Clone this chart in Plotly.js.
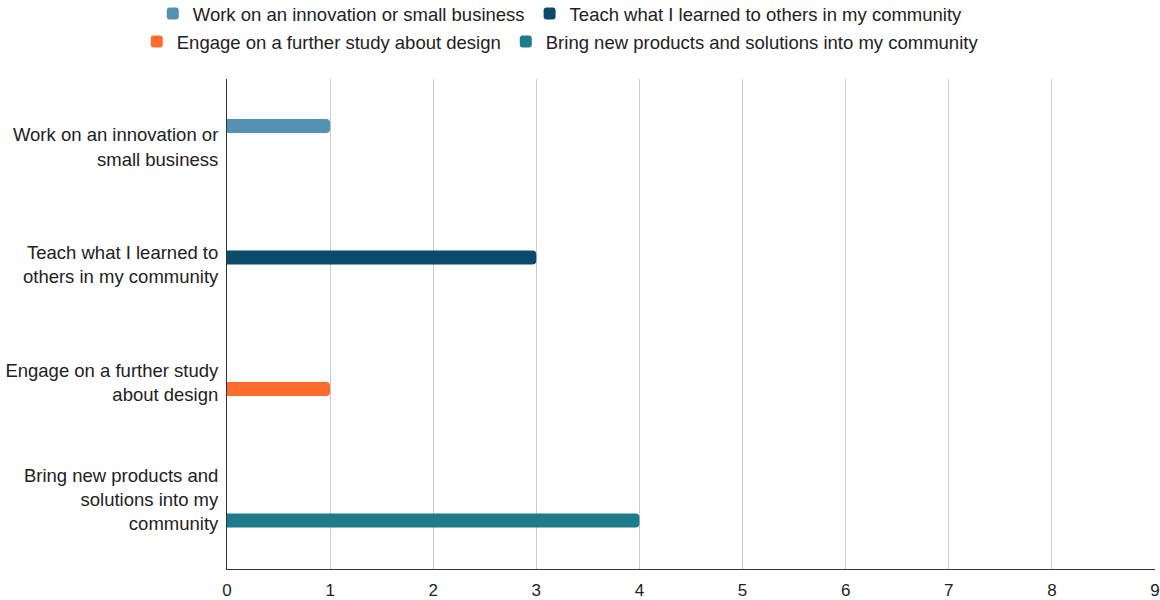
<!DOCTYPE html>
<html>
<head>
<meta charset="utf-8">
<script src="https://cdn.plot.ly/plotly-3.0.1.min.js"></script>
<style>html,body{margin:0;padding:0;background:#fff;}#chart{width:1160px;height:600px;}</style>
</head>
<body>
<div id="chart"></div>
<script>
const categories = [
  "Work on an innovation or<br>small business",
  "Teach what I learned to<br>others in my community",
  "Engage on a further study<br>about design",
  "Bring new products and<br>solutions into my<br>community"
];
const seriesNames = [
  "Work on an innovation or small business",
  "Teach what I learned to others in my community",
  "Engage on a further study about design",
  "Bring new products and solutions into my community"
];
const workValues = [1, null, null, null];
const teachValues = [null, 3, null, null];
const engageValues = [null, null, 1, null];
const bringValues = [null, null, null, 4];
const seriesColors = ["#5591b3", "#0b4a6b", "#ff6b2c", "#1e7b8c"];
const xTicks = [0, 1, 2, 3, 4, 5, 6, 7, 8, 9];

const allValues = [workValues, teachValues, engageValues, bringValues];
const legendIds = ["legend", "legend", "legend2", "legend2"];

const traces = allValues.map((vals, i) => ({
  type: "bar",
  orientation: "h",
  name: seriesNames[i],
  y: categories,
  x: vals,
  marker: { color: seriesColors[i], cornerradius: 4 },
  legend: legendIds[i],
  hoverinfo: "skip"
}));

const fontFam = "Liberation Sans, Arial, sans-serif";
const txt = { family: fontFam, size: 18.5, color: "#222222" };
const layout = {
  width: 1160,
  height: 600,
  paper_bgcolor: "#ffffff",
  plot_bgcolor: "#ffffff",
  margin: { l: 227, r: 5, t: 79, b: 31, pad: 0 },
  barmode: "group",
  bargap: 0.523,
  bargroupgap: 0,
  font: txt,
  showlegend: true,
  legend: {
    orientation: "h",
    xref: "container", yref: "container",
    x: 0.483, xanchor: "center",
    y: 0.9767, yanchor: "middle",
    font: txt,
    traceorder: "normal",
    bgcolor: "rgba(0,0,0,0)"
  },
  legend2: {
    orientation: "h",
    xref: "container", yref: "container",
    x: 0.483, xanchor: "center",
    y: 0.93, yanchor: "middle",
    font: txt,
    traceorder: "normal",
    bgcolor: "rgba(0,0,0,0)"
  },
  xaxis: {
    range: [0, 9],
    tickvals: xTicks,
    showgrid: true,
    gridcolor: "#cccccc",
    gridwidth: 1,
    zeroline: false,
    showline: true,
    linecolor: "#333333",
    linewidth: 1,
    ticks: "",
    ticklabelstandoff: 6,
    tickfont: { family: fontFam, size: 17, color: "#222222" },
    fixedrange: true
  },
  yaxis: {
    type: "category",
    range: [3.591, -0.579],
    showgrid: false,
    zeroline: false,
    showline: true,
    linecolor: "#333333",
    linewidth: 1,
    ticks: "",
    ticklabelstandoff: 4,
    tickfont: txt,
    fixedrange: true
  }
};

Plotly.newPlot("chart", traces, layout, { displayModeBar: false, staticPlot: true });
</script>
</body>
</html>
